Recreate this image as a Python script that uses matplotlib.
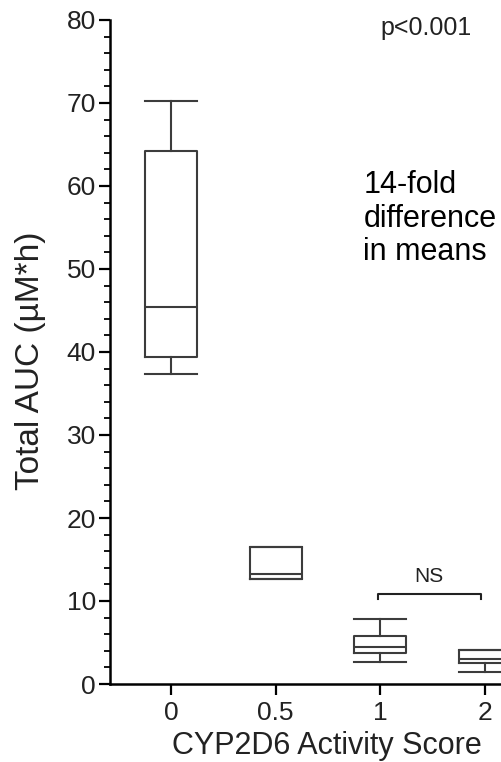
import matplotlib
matplotlib.use("Agg")
import matplotlib.pyplot as plt
from matplotlib.ticker import MultipleLocator

plt.rcParams['font.family'] = ['Liberation Sans', 'DejaVu Sans']

# Data
categories = ['0', '0.5', '1', '2']
whisker_low = [37.3, 12.7, 2.6, 1.4]
q1 = [39.4, 12.7, 3.7, 2.5]
median = [45.4, 13.25, 4.45, 3.0]
q3 = [64.2, 16.5, 5.8, 4.1]
whisker_high = [70.3, 16.5, 7.8, 4.1]

fig = plt.figure(figsize=(5.01, 7.62), dpi=100)
W, H = 501, 762
x_left, x_right = -0.585, 3.5
px_per_unit = 104.5
ax_w = (x_right - x_left) * px_per_unit
ax = fig.add_axes([110 / W, (H - 684) / H, ax_w / W, (684 - 20) / H])

positions = list(range(len(categories)))
stats = []
for i, c in enumerate(categories):
    stats.append(dict(label=c, whislo=whisker_low[i], q1=q1[i], med=median[i],
                      q3=q3[i], whishi=whisker_high[i], fliers=[]))

lc = '#3c3c3c'
lw = 1.5
ax.bxp(stats, positions=positions, widths=0.5, showfliers=False,
       boxprops=dict(color=lc, linewidth=lw),
       medianprops=dict(color=lc, linewidth=lw),
       whiskerprops=dict(color=lc, linewidth=lw),
       capprops=dict(color=lc, linewidth=lw),
       capwidths=0.5)

ax.set_xlim(x_left, x_right)
ax.set_ylim(0, 80)
ax.set_xticks(positions)
ax.set_xticklabels(categories)
ax.yaxis.set_major_locator(MultipleLocator(10))
ax.yaxis.set_minor_locator(MultipleLocator(2))
for s in ['top', 'right']:
    ax.spines[s].set_visible(False)
for s in ['left', 'bottom']:
    ax.spines[s].set_linewidth(1.8)
    ax.spines[s].set_color('black')
ax.tick_params(axis='both', which='major', length=8, width=1.6, labelsize=19,
               colors='black', labelcolor='#222222')
ax.tick_params(axis='y', which='minor', length=4, width=1.3)
ax.tick_params(axis='x', which='major', pad=4)
ax.tick_params(axis='y', which='major', pad=2)

# Annotations
ax.text(2.44, 79.0, 'p<0.001', ha='center', va='center', fontsize=18, color='#222222')
ax.text(1.84, 59.2, '14-fold', ha='left', va='baseline', fontsize=22, color='black')
ax.text(1.84, 55.1, 'difference', ha='left', va='baseline', fontsize=22, color='black')
ax.text(1.84, 51.1, 'in means', ha='left', va='baseline', fontsize=22, color='black')

# NS bracket
ax.plot([1.98, 1.98, 2.97, 2.97], [10.2, 10.9, 10.9, 10.2], color='#222222', lw=1.5,
        clip_on=False)
ax.text(2.47, 12.9, 'NS', ha='center', va='center', fontsize=15, color='#222222')

fig.text(31 / W, 1 - 361 / H, 'Total AUC (\u00b5M*h)', rotation=90, ha='center',
         va='center', fontsize=24, color='#222222')
fig.text(327 / W, 1 - 746 / H, 'CYP2D6 Activity Score', ha='center', va='center',
         fontsize=22, color='#222222')

fig.savefig('out.png', dpi=100)
